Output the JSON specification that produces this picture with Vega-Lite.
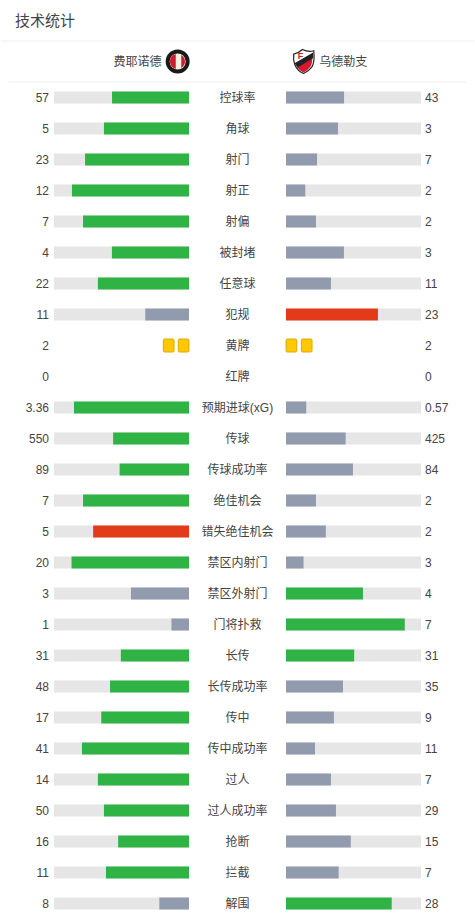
{"$schema":"https://vega.github.io/schema/vega-lite/v6.json","padding":{"top":13,"left":0,"right":0,"bottom":0},"bounds":"flush","background":"white","spacing":0,"config":{"view":{"stroke":null},"concat":{"spacing":0},"text":{"font":"Liberation Sans, Noto Sans CJK SC"}},
"datasets":{"order":[{"stat":"控球率","home":"57","away":"43","homeShare":57,"awayShare":43,"homeStatus":"lead","awayStatus":"trail"},{"stat":"角球","home":"5","away":"3","homeShare":63,"awayShare":38.5,"homeStatus":"lead","awayStatus":"trail"},{"stat":"射门","home":"23","away":"7","homeShare":77,"awayShare":23,"homeStatus":"lead","awayStatus":"trail"},{"stat":"射正","home":"12","away":"2","homeShare":86.7,"awayShare":14.3,"homeStatus":"lead","awayStatus":"trail"},{"stat":"射偏","home":"7","away":"2","homeShare":78.5,"awayShare":22.2,"homeStatus":"lead","awayStatus":"trail"},{"stat":"被封堵","home":"4","away":"3","homeShare":57.1,"awayShare":42.9,"homeStatus":"lead","awayStatus":"trail"},{"stat":"任意球","home":"22","away":"11","homeShare":67.5,"awayShare":33.3,"homeStatus":"lead","awayStatus":"trail"},{"stat":"犯规","home":"11","away":"23","homeShare":32.4,"awayShare":68.1,"homeStatus":"trail","awayStatus":"bad"},{"stat":"黄牌","home":"2","away":"2"},{"stat":"红牌","home":"0","away":"0"},{"stat":"预期进球(xG)","home":"3.36","away":"0.57","homeShare":85.2,"awayShare":15,"homeStatus":"lead","awayStatus":"trail"},{"stat":"传球","home":"550","away":"425","homeShare":56.2,"awayShare":44.2,"homeStatus":"lead","awayStatus":"trail"},{"stat":"传球成功率","home":"89","away":"84","homeShare":51.4,"awayShare":49.6,"homeStatus":"lead","awayStatus":"trail"},{"stat":"绝佳机会","home":"7","away":"2","homeShare":78.5,"awayShare":22.2,"homeStatus":"lead","awayStatus":"trail"},{"stat":"错失绝佳机会","home":"5","away":"2","homeShare":71,"awayShare":29.5,"homeStatus":"bad","awayStatus":"trail"},{"stat":"禁区内射门","home":"20","away":"3","homeShare":87,"awayShare":13,"homeStatus":"lead","awayStatus":"trail"},{"stat":"禁区外射门","home":"3","away":"4","homeShare":43,"awayShare":57,"homeStatus":"trail","awayStatus":"lead"},{"stat":"门将扑救","home":"1","away":"7","homeShare":13,"awayShare":88,"homeStatus":"trail","awayStatus":"lead"},{"stat":"长传","home":"31","away":"31","homeShare":50.5,"awayShare":50.5,"homeStatus":"lead","awayStatus":"lead"},{"stat":"长传成功率","home":"48","away":"35","homeShare":58.5,"awayShare":42.2,"homeStatus":"lead","awayStatus":"trail"},{"stat":"传中","home":"17","away":"9","homeShare":65,"awayShare":35.5,"homeStatus":"lead","awayStatus":"trail"},{"stat":"传中成功率","home":"41","away":"11","homeShare":79.3,"awayShare":21.5,"homeStatus":"lead","awayStatus":"trail"},{"stat":"过人","home":"14","away":"7","homeShare":67.5,"awayShare":33.3,"homeStatus":"lead","awayStatus":"trail"},{"stat":"过人成功率","home":"50","away":"29","homeShare":63,"awayShare":37,"homeStatus":"lead","awayStatus":"trail"},{"stat":"抢断","home":"16","away":"15","homeShare":52.5,"awayShare":48,"homeStatus":"lead","awayStatus":"trail"},{"stat":"拦截","home":"11","away":"7","homeShare":61.5,"awayShare":39,"homeStatus":"lead","awayStatus":"trail"},{"stat":"解围","home":"8","away":"28","homeShare":22,"awayShare":78.3,"homeStatus":"trail","awayStatus":"lead"}],"cards":[{"stat":"黄牌","card":1},{"stat":"黄牌","card":2}],"logo":[{"stat":"header"}]},
"hconcat":[
{"width":189,"height":{"step":31},"data":{"name":"order"},"encoding":{"y":{"field":"stat","type":"nominal","axis":null,"scale":{"paddingInner":0,"paddingOuter":0,"domain":["title","header","控球率","角球","射门","射正","射偏","被封堵","任意球","犯规","黄牌","红牌","预期进球(xG)","传球","传球成功率","绝佳机会","错失绝佳机会","禁区内射门","禁区外射门","门将扑救","长传","长传成功率","传中","传中成功率","过人","过人成功率","抢断","拦截","解围"]}}},
"resolve":{"scale":{"x":"independent"}},
"layer":[
{"transform":[{"filter":"isValid(datum.homeShare)"}],"mark":{"type":"bar","size":12,"color":"#e6e6e6"},"encoding":{"x":{"datum":100,"type":"quantitative","axis":null,"scale":{"domain":[0,140],"reverse":true,"nice":false,"zero":false}},"x2":{"datum":0}}},
{"transform":[{"filter":"isValid(datum.homeShare)"}],"mark":{"type":"bar","size":12},"encoding":{"x":{"field":"homeShare","type":"quantitative","axis":null,"scale":{"domain":[0,140],"reverse":true,"nice":false,"zero":false}},"x2":{"datum":0},"color":{"field":"homeStatus","type":"nominal","legend":null,"scale":{"domain":["lead","trail","bad"],"range":["#2fb344","#929bad","#e33a1a"]}}}},
{"mark":{"type":"text","align":"right","baseline":"middle","fontSize":12,"color":"#444444","dx":-5},"encoding":{"x":{"datum":100,"type":"quantitative","axis":null,"scale":{"domain":[0,140],"reverse":true,"nice":false,"zero":false}},"text":{"field":"home"}}},
{"data":{"name":"cards"},"mark":{"type":"point","filled":true,"shape":"M-0.62,-1 H0.62 Q0.82,-1 0.82,-0.8 V0.8 Q0.82,1 0.62,1 H-0.62 Q-0.82,1 -0.82,0.8 V-0.8 Q-0.82,-1 -0.62,-1 Z","size":169,"opacity":1,"fill":"#ffc800","stroke":"#e0a800","strokeWidth":1},"encoding":{"x":{"field":"card","type":"ordinal","axis":null,"scale":{"type":"point","padding":0,"domain":[1,2],"range":[183.6,168.7]}}}},
{"data":{"values":[{"stat":"title","label":"技术统计"}]},"mark":{"type":"text","align":"left","baseline":"middle","fontSize":15,"color":"#444444","dy":-15,"dx":15},"encoding":{"x":{"datum":140,"type":"quantitative","axis":null,"scale":{"domain":[0,140],"reverse":true,"nice":false,"zero":false}},"text":{"field":"label"}}},
{"data":{"values":[{"stat":"title"}]},"mark":{"type":"rule","color":"#eeeeee","yOffset":5.5},"encoding":{"x":{"datum":139.5,"type":"quantitative","axis":null,"scale":{"domain":[0,140],"reverse":true,"nice":false,"zero":false}},"x2":{"datum":0}}},
{"data":{"values":[{"stat":"header"}]},"mark":{"type":"rule","color":"#eeeeee","yOffset":15.5},"encoding":{"x":{"datum":133.5,"type":"quantitative","axis":null,"scale":{"domain":[0,140],"reverse":true,"nice":false,"zero":false}},"x2":{"datum":0}}},
{"data":{"values":[{"stat":"header","label":"费耶诺德"}]},"mark":{"type":"text","align":"right","baseline":"middle","fontSize":12,"color":"#444444","dy":-5},"encoding":{"x":{"datum":20.4,"type":"quantitative","axis":null,"scale":{"domain":[0,140],"reverse":true,"nice":false,"zero":false}},"text":{"field":"label"}}},
{"data":{"name":"logo"},"mark":{"type":"point","filled":true,"shape":"circle","size":576,"opacity":1,"fill":"#1a1a1a","yOffset":-5},"encoding":{"x":{"datum":8.4,"type":"quantitative","axis":null,"scale":{"domain":[0,140],"reverse":true,"nice":false,"zero":false}}}},
{"data":{"name":"logo"},"mark":{"type":"point","filled":true,"shape":"circle","size":256,"opacity":1,"fill":"#f5efe0","yOffset":-5},"encoding":{"x":{"datum":8.4,"type":"quantitative","axis":null,"scale":{"domain":[0,140],"reverse":true,"nice":false,"zero":false}}}},
{"data":{"name":"logo"},"mark":{"type":"point","filled":true,"shape":"M-0.16,-0.62 L-0.16,0.62 A0.64,0.64 0 0 1 -0.16,-0.62 Z","size":576,"opacity":1,"fill":"#c8202c","yOffset":-5},"encoding":{"x":{"datum":8.4,"type":"quantitative","axis":null,"scale":{"domain":[0,140],"reverse":true,"nice":false,"zero":false}}}},
{"data":{"name":"logo"},"mark":{"type":"point","filled":true,"shape":"M0.3,-0.55 A0.64,0.64 0 0 1 0.3,0.55 Z","size":576,"opacity":1,"fill":"#c8202c","yOffset":-5},"encoding":{"x":{"datum":8.4,"type":"quantitative","axis":null,"scale":{"domain":[0,140],"reverse":true,"nice":false,"zero":false}}}}
]},
{"width":97,"height":{"step":31},"data":{"name":"order"},"encoding":{"y":{"field":"stat","type":"nominal","axis":null,"scale":{"paddingInner":0,"paddingOuter":0,"domain":["title","header","控球率","角球","射门","射正","射偏","被封堵","任意球","犯规","黄牌","红牌","预期进球(xG)","传球","传球成功率","绝佳机会","错失绝佳机会","禁区内射门","禁区外射门","门将扑救","长传","长传成功率","传中","传中成功率","过人","过人成功率","抢断","拦截","解围"]}}},
"layer":[
{"mark":{"type":"text","align":"center","baseline":"middle","fontSize":12,"color":"#444444"},"encoding":{"text":{"field":"stat"}}},
{"data":{"values":[{"stat":"title"}]},"mark":{"type":"rule","color":"#eeeeee","yOffset":5.5},"encoding":{}},
{"data":{"values":[{"stat":"header"}]},"mark":{"type":"rule","color":"#eeeeee","yOffset":15.5},"encoding":{}}
]},
{"width":189,"height":{"step":31},"data":{"name":"order"},"encoding":{"y":{"field":"stat","type":"nominal","axis":null,"scale":{"paddingInner":0,"paddingOuter":0,"domain":["title","header","控球率","角球","射门","射正","射偏","被封堵","任意球","犯规","黄牌","红牌","预期进球(xG)","传球","传球成功率","绝佳机会","错失绝佳机会","禁区内射门","禁区外射门","门将扑救","长传","长传成功率","传中","传中成功率","过人","过人成功率","抢断","拦截","解围"]}}},
"resolve":{"scale":{"x":"independent"}},
"layer":[
{"transform":[{"filter":"isValid(datum.awayShare)"}],"mark":{"type":"bar","size":12,"color":"#e6e6e6"},"encoding":{"x":{"datum":100,"type":"quantitative","axis":null,"scale":{"domain":[0,140],"nice":false,"zero":false}},"x2":{"datum":0}}},
{"transform":[{"filter":"isValid(datum.awayShare)"}],"mark":{"type":"bar","size":12},"encoding":{"x":{"field":"awayShare","type":"quantitative","axis":null,"scale":{"domain":[0,140],"nice":false,"zero":false}},"x2":{"datum":0},"color":{"field":"awayStatus","type":"nominal","legend":null,"scale":{"domain":["lead","trail","bad"],"range":["#2fb344","#929bad","#e33a1a"]}}}},
{"mark":{"type":"text","align":"left","baseline":"middle","fontSize":12,"color":"#444444","dx":4},"encoding":{"x":{"datum":100,"type":"quantitative","axis":null,"scale":{"domain":[0,140],"nice":false,"zero":false}},"text":{"field":"away"}}},
{"data":{"name":"cards"},"mark":{"type":"point","filled":true,"shape":"M-0.62,-1 H0.62 Q0.82,-1 0.82,-0.8 V0.8 Q0.82,1 0.62,1 H-0.62 Q-0.82,1 -0.82,0.8 V-0.8 Q-0.82,-1 -0.62,-1 Z","size":169,"opacity":1,"fill":"#ffc800","stroke":"#e0a800","strokeWidth":1},"encoding":{"x":{"field":"card","type":"ordinal","axis":null,"scale":{"type":"point","padding":0,"domain":[1,2],"range":[5.4,20.7]}}}},
{"data":{"values":[{"stat":"title"}]},"mark":{"type":"rule","color":"#eeeeee","yOffset":5.5},"encoding":{"x":{"datum":0,"type":"quantitative","axis":null,"scale":{"domain":[0,140],"nice":false,"zero":false}},"x2":{"datum":139.5}}},
{"data":{"values":[{"stat":"header"}]},"mark":{"type":"rule","color":"#eeeeee","yOffset":15.5},"encoding":{"x":{"datum":0,"type":"quantitative","axis":null,"scale":{"domain":[0,140],"nice":false,"zero":false}},"x2":{"datum":133.5}}},
{"data":{"values":[{"stat":"header","label":"乌德勒支"}]},"mark":{"type":"text","align":"left","baseline":"middle","fontSize":12,"color":"#444444","dy":-5},"encoding":{"x":{"datum":24.7,"type":"quantitative","axis":null,"scale":{"domain":[0,140],"nice":false,"zero":false}},"text":{"field":"label"}}},
{"data":{"name":"logo"},"mark":{"type":"point","filled":true,"shape":"M-0.82,-0.62 Q-0.4,-0.7 -0.1,-1 Q0.4,-0.75 0.85,-0.9 Q0.95,0 0.7,0.45 Q0.4,0.85 0,1 Q-0.5,0.8 -0.72,0.3 Q-0.88,-0.1 -0.82,-0.62 Z","size":576,"opacity":1,"fill":"white","stroke":"#222222","strokeWidth":1.2,"yOffset":-5},"encoding":{"x":{"datum":13,"type":"quantitative","axis":null,"scale":{"domain":[0,140],"nice":false,"zero":false}}}},
{"data":{"name":"logo"},"mark":{"type":"point","filled":true,"shape":"M-0.55,0.45 L0.75,-0.35 Q0.72,0.15 0.6,0.4 Q0.35,0.75 0,0.92 Q-0.35,0.75 -0.55,0.45 Z","size":576,"opacity":1,"fill":"#d8182c","yOffset":-5},"encoding":{"x":{"datum":13,"type":"quantitative","axis":null,"scale":{"domain":[0,140],"nice":false,"zero":false}}}},
{"data":{"name":"logo"},"mark":{"type":"point","filled":true,"shape":"M-0.75,0.15 L0.8,-0.75 L0.8,-0.3 L-0.5,0.5 Z","size":576,"opacity":1,"fill":"#222222","yOffset":-5},"encoding":{"x":{"datum":13,"type":"quantitative","axis":null,"scale":{"domain":[0,140],"nice":false,"zero":false}}}},
{"data":{"values":[{"stat":"header","f":"F"}]},"mark":{"type":"text","fontSize":9,"fontWeight":"bold","color":"#d8182c","align":"center","baseline":"middle","dx":-3,"dy":-11},"encoding":{"x":{"datum":13,"type":"quantitative","axis":null,"scale":{"domain":[0,140],"nice":false,"zero":false}},"text":{"field":"f"}}}
]}
]}
